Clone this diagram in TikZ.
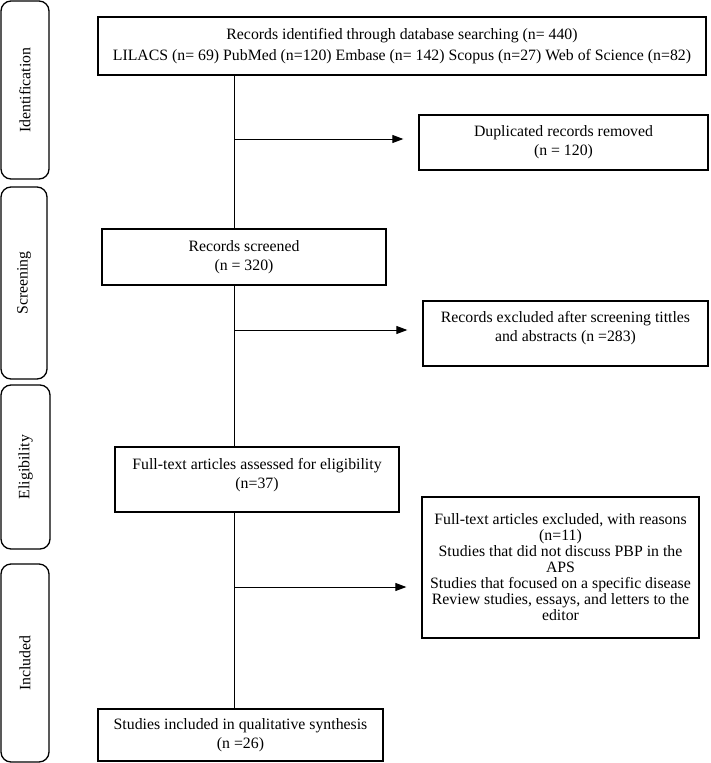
\documentclass[tikz,border=0pt]{standalone}
\usepackage{fontspec}
\setmainfont{Liberation Serif}
\usetikzlibrary{arrows.meta}

\begin{document}
\begin{tikzpicture}[x=1pt, y=-1pt,
    every node/.style={font=\fontsize{15.8}{19}\selectfont},
    phase/.style={draw, line width=1.3pt, rounded corners=10pt, rotate=90, inner sep=0pt},
    record/.style={draw, line width=1.3pt, align=center, inner sep=0pt},
    flow/.style={line width=1pt},
    arrow/.style={flow, -{Triangle[length=11pt, width=8pt]}, shorten >=15pt}]
  \useasboundingbox (0,0) rectangle (710,763);

  % stages on the left
  \node[phase, minimum width=178pt, minimum height=48pt] (identification) at (25,90) {Identification};
  \node[phase, minimum width=192pt, minimum height=46pt] (screening) at (24,283) {Screening};
  \node[phase, minimum width=164pt, minimum height=49pt] (eligibility) at (25.5,467) {Eligibility};
  \node[phase, minimum width=198pt, minimum height=48pt] (included) at (25,663) {Included};

  % records
  \node[record, minimum width=608pt, minimum height=58pt, font=\fontsize{15.8}{21.5}\selectfont] (identified) at (402,46)
    {Records identified through database searching (n= 440)\\LILACS (n= 69) PubMed (n=120) Embase (n= 142) Scopus (n=27) Web of Science (n=82)};
  \node[record, minimum width=289pt, minimum height=55pt] (duplicates) at (563.5,142.5)
    {Duplicated records removed\\(n = 120)};
  \node[record, minimum width=284pt, minimum height=56pt] (screened) at (244,257)
    {Records screened\\(n = 320)};
  \node[record, minimum width=285pt, minimum height=65pt] (excluded) at (565.5,333.5)
    {Records excluded after screening tittles\\and abstracts (n =283)\rule[-14pt]{0pt}{14pt}};
  \node[record, minimum width=284pt, minimum height=65pt] (assessed) at (257,479.5)
    {Full-text articles assessed for eligibility\\(n=37)\rule[-12pt]{0pt}{12pt}};
  \node[record, minimum width=277pt, minimum height=141pt, font=\fontsize{15.8}{16}\selectfont] (reasons) at (560.5,567.5)
    {Full-text articles excluded, with reasons\\(n=11)\\Studies that did not discuss PBP in the\\APS\\Studies that focused on a specific disease\\Review studies, essays, and letters to the\\editor};
  \node[record, minimum width=285pt, minimum height=52pt] (synthesis) at (240.5,735)
    {Studies included in qualitative synthesis\\(n =26)};

  % flow
  \coordinate (spine) at (234.5,0);
  \draw[flow] (identified.south -| spine) -- (screened.north -| spine);
  \draw[flow] (screened.south -| spine) -- (assessed.north -| spine);
  \draw[flow] (assessed.south -| spine) -- (synthesis.north -| spine);
  \draw[arrow] (spine |- 0,139) -- (duplicates.west |- 0,139);
  \draw[arrow] (spine |- 0,330) -- (excluded.west |- 0,330);
  \draw[arrow] (spine |- 0,587) -- (reasons.west |- 0,587);
\end{tikzpicture}
\end{document}
